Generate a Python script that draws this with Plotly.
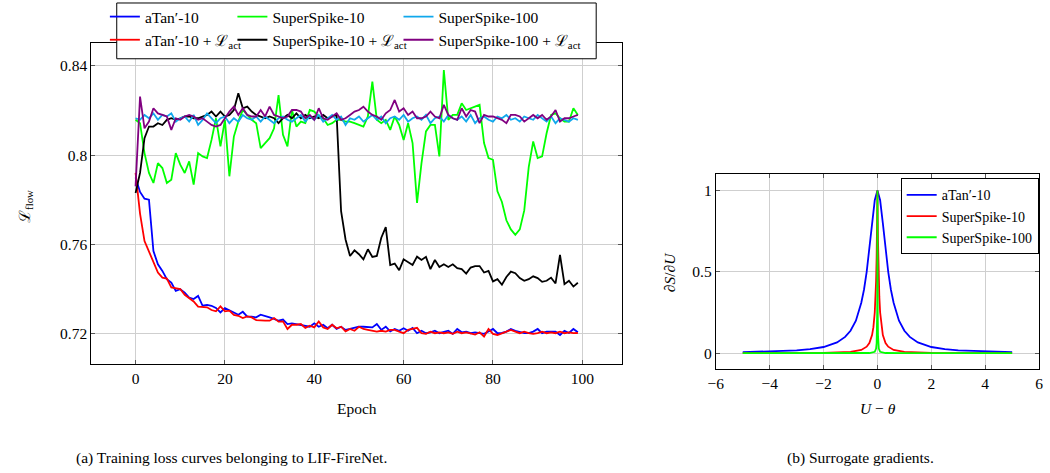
import plotly.graph_objects as go

W, H = 1050, 473
FONT = "Liberation Serif, Times New Roman, serif"

epochs = list(range(100))

atan10 = [0.7900, 0.7835, 0.7805, 0.7800, 0.7570, 0.7511, 0.7481, 0.7444, 0.7429, 0.7392,
          0.7399, 0.7384, 0.7362, 0.7355, 0.7369, 0.7325, 0.7329, 0.7325, 0.7315, 0.7295,
          0.7315, 0.7306, 0.7295, 0.7285, 0.7298, 0.7276, 0.7276, 0.7273, 0.7285, 0.7280,
          0.7273, 0.7266, 0.7258, 0.7263, 0.7243, 0.7246, 0.7243, 0.7240, 0.7236, 0.7231,
          0.7246, 0.7231, 0.7240, 0.7224, 0.7240, 0.7221, 0.7231, 0.7217, 0.7221, 0.7226,
          0.7231, 0.7231, 0.7231, 0.7228, 0.7243, 0.7217, 0.7231, 0.7210, 0.7221, 0.7213,
          0.7224, 0.7213, 0.7226, 0.7202, 0.7213, 0.7202, 0.7206, 0.7213, 0.7202, 0.7209,
          0.7213, 0.7199, 0.7221, 0.7206, 0.7209, 0.7202, 0.7206, 0.7202, 0.7199, 0.7210,
          0.7221, 0.7202, 0.7203, 0.7209, 0.7221, 0.7213, 0.7206, 0.7202, 0.7202, 0.7209,
          0.7221, 0.7202, 0.7209, 0.7210, 0.7209, 0.7194, 0.7213, 0.7203, 0.7221, 0.7206]

atan10_act = [0.7920, 0.7738, 0.7615, 0.7570, 0.7526, 0.7474, 0.7451, 0.7447, 0.7407, 0.7404,
              0.7400, 0.7374, 0.7359, 0.7344, 0.7321, 0.7318, 0.7318, 0.7306, 0.7300, 0.7322,
              0.7300, 0.7303, 0.7284, 0.7280, 0.7270, 0.7277, 0.7273, 0.7261, 0.7258, 0.7258,
              0.7258, 0.7270, 0.7254, 0.7255, 0.7221, 0.7240, 0.7240, 0.7243, 0.7226, 0.7236,
              0.7228, 0.7255, 0.7228, 0.7221, 0.7240, 0.7224, 0.7231, 0.7210, 0.7221, 0.7213,
              0.7231, 0.7221, 0.7217, 0.7213, 0.7209, 0.7213, 0.7209, 0.7217, 0.7217, 0.7209,
              0.7202, 0.7217, 0.7221, 0.7226, 0.7202, 0.7199, 0.7209, 0.7202, 0.7206, 0.7202,
              0.7206, 0.7199, 0.7209, 0.7202, 0.7206, 0.7202, 0.7196, 0.7206, 0.7187, 0.7221,
              0.7199, 0.7194, 0.7202, 0.7209, 0.7217, 0.7209, 0.7202, 0.7209, 0.7202, 0.7199,
              0.7202, 0.7209, 0.7202, 0.7206, 0.7202, 0.7209, 0.7202, 0.7206, 0.7202, 0.7203]

ss10 = [0.8158, 0.8143, 0.8009, 0.7920, 0.7875, 0.7964, 0.7942, 0.7875, 0.7890, 0.8009,
        0.7957, 0.7920, 0.7972, 0.7868, 0.8009, 0.7994, 0.7987, 0.8068, 0.8165, 0.8039,
        0.8158, 0.7905, 0.8083, 0.8150, 0.8202, 0.8180, 0.8158, 0.8143, 0.8031, 0.8054,
        0.8076, 0.8120, 0.8269, 0.8091, 0.8039, 0.8202, 0.8128, 0.8150, 0.8143, 0.8202,
        0.8195, 0.8173, 0.8165, 0.8135, 0.8143, 0.8158, 0.8158, 0.8150, 0.8150, 0.8143,
        0.8135, 0.8128, 0.8173, 0.8329, 0.8158, 0.8143, 0.8158, 0.8113, 0.8173, 0.8135,
        0.8068, 0.8143, 0.8054, 0.7786, 0.7964, 0.8106, 0.8135, 0.8135, 0.7994, 0.8381,
        0.8158, 0.8180, 0.8180, 0.8232, 0.8202, 0.8210, 0.8217, 0.8225, 0.8054, 0.7987,
        0.7979, 0.7838, 0.7790, 0.7708, 0.7667, 0.7643, 0.7667, 0.7752, 0.7946, 0.8061,
        0.7987, 0.7994, 0.8098, 0.8180, 0.8187, 0.8165, 0.8150, 0.8150, 0.8210, 0.8180]

ss10_act = [0.7830, 0.7920, 0.8076, 0.8128, 0.8128, 0.8143, 0.8135, 0.8158, 0.8165, 0.8158,
            0.8165, 0.8173, 0.8173, 0.8165, 0.8165, 0.8173, 0.8180, 0.8195, 0.8173, 0.8195,
            0.8173, 0.8180, 0.8202, 0.8277, 0.8210, 0.8217, 0.8195, 0.8180, 0.8173, 0.8165,
            0.8173, 0.8165, 0.8143, 0.8165, 0.8180, 0.8165, 0.8187, 0.8165, 0.8180, 0.8165,
            0.8173, 0.8165, 0.8180, 0.8165, 0.8173, 0.8180, 0.7749, 0.7622, 0.7548, 0.7573,
            0.7556, 0.7533, 0.7578, 0.7544, 0.7548, 0.7630, 0.7677, 0.7507, 0.7514, 0.7484,
            0.7533, 0.7521, 0.7508, 0.7545, 0.7530, 0.7544, 0.7489, 0.7530, 0.7499, 0.7511,
            0.7499, 0.7511, 0.7493, 0.7489, 0.7469, 0.7496, 0.7503, 0.7503, 0.7474, 0.7481,
            0.7434, 0.7444, 0.7419, 0.7454, 0.7478, 0.7471, 0.7449, 0.7437, 0.7444, 0.7457,
            0.7449, 0.7432, 0.7437, 0.7451, 0.7425, 0.7553, 0.7422, 0.7437, 0.7411, 0.7428]

ss100 = [0.8165, 0.8158, 0.8180, 0.8165, 0.8187, 0.8158, 0.8180, 0.8173, 0.8187, 0.8150,
         0.8165, 0.8173, 0.8150, 0.8180, 0.8135, 0.8158, 0.8187, 0.8165, 0.8143, 0.8165,
         0.8173, 0.8143, 0.8165, 0.8150, 0.8180, 0.8165, 0.8158, 0.8173, 0.8150, 0.8173,
         0.8158, 0.8143, 0.8165, 0.8173, 0.8158, 0.8150, 0.8165, 0.8180, 0.8150, 0.8173,
         0.8158, 0.8180, 0.8150, 0.8165, 0.8180, 0.8158, 0.8173, 0.8135, 0.8165, 0.8158,
         0.8173, 0.8150, 0.8165, 0.8180, 0.8158, 0.8173, 0.8143, 0.8165, 0.8173, 0.8158,
         0.8180, 0.8150, 0.8165, 0.8173, 0.8158, 0.8180, 0.8143, 0.8165, 0.8173, 0.8150,
         0.8180, 0.8165, 0.8158, 0.8173, 0.8150, 0.8180, 0.8143, 0.8165, 0.8173, 0.8158,
         0.8150, 0.8173, 0.8165, 0.8180, 0.8158, 0.8165, 0.8150, 0.8173, 0.8165, 0.8158,
         0.8180, 0.8165, 0.8150, 0.8173, 0.8143, 0.8165, 0.8158, 0.8150, 0.8165, 0.8158]

ss100_act = [0.7860, 0.8262, 0.8120, 0.8150, 0.8210, 0.8187, 0.8180, 0.8173, 0.8113, 0.8165,
             0.8158, 0.8173, 0.8180, 0.8173, 0.8158, 0.8165, 0.8150, 0.8135, 0.8128, 0.8135,
             0.8165, 0.8195, 0.8217, 0.8180, 0.8210, 0.8180, 0.8173, 0.8173, 0.8202, 0.8173,
             0.8217, 0.8180, 0.8173, 0.8165, 0.8173, 0.8202, 0.8202, 0.8195, 0.8165, 0.8180,
             0.8158, 0.8210, 0.8165, 0.8158, 0.8173, 0.8187, 0.8158, 0.8165, 0.8180, 0.8195,
             0.8202, 0.8217, 0.8195, 0.8180, 0.8173, 0.8158, 0.8187, 0.8202, 0.8247, 0.8195,
             0.8210, 0.8180, 0.8195, 0.8165, 0.8165, 0.8173, 0.8195, 0.8173, 0.8165, 0.8225,
             0.8180, 0.8165, 0.8158, 0.8210, 0.8173, 0.8202, 0.8195, 0.8143, 0.8180, 0.8173,
             0.8173, 0.8165, 0.8158, 0.8143, 0.8180, 0.8180, 0.8173, 0.8150, 0.8165, 0.8180,
             0.8165, 0.8180, 0.8158, 0.8173, 0.8202, 0.8150, 0.8165, 0.8165, 0.8173, 0.8180]

# Surrogate gradients (right panel)
sg_atan_x = [-5, -4, -3, -2.5, -2, -1.5, -1.2, -1, -0.8, -0.6, -0.5, -0.4, -0.3, -0.2, -0.1, 0,
             0.1, 0.2, 0.3, 0.4, 0.5, 0.6, 0.8, 1, 1.2, 1.5, 2, 2.5, 3, 4, 5]
sg_atan_y = [0.006, 0.010, 0.017, 0.025, 0.038, 0.066, 0.10, 0.138, 0.20, 0.31, 0.39, 0.50, 0.64, 0.80, 0.94, 1.0,
             0.94, 0.80, 0.64, 0.50, 0.39, 0.31, 0.20, 0.138, 0.10, 0.066, 0.038, 0.025, 0.017, 0.010, 0.006]
sg_ss10_x = [-5, -3, -2, -1, -0.6, -0.4, -0.3, -0.2, -0.15, -0.1, -0.07, -0.05, -0.03, -0.02, -0.01, 0,
             0.01, 0.02, 0.03, 0.05, 0.07, 0.1, 0.15, 0.2, 0.3, 0.4, 0.6, 1, 2, 3, 5]
sg_ss10_y = [0.0004, 0.0011, 0.0023, 0.0083, 0.020, 0.040, 0.0625, 0.111, 0.16, 0.25, 0.346, 0.444, 0.592, 0.694, 0.826, 1.0,
             0.826, 0.694, 0.592, 0.444, 0.346, 0.25, 0.16, 0.111, 0.0625, 0.040, 0.020, 0.0083, 0.0023, 0.0011, 0.0004]
sg_ss100_x = [-5, -1, -0.3, -0.1, -0.05, -0.03, -0.02, -0.01, -0.005, -0.002, 0,
              0.002, 0.005, 0.01, 0.02, 0.03, 0.05, 0.1, 0.3, 1, 5]
sg_ss100_y = [0.0, 0.0001, 0.001, 0.0083, 0.028, 0.0625, 0.111, 0.25, 0.444, 0.694, 1.0,
              0.694, 0.444, 0.25, 0.111, 0.0625, 0.028, 0.0083, 0.001, 0.0001, 0.0]

C_BLUE, C_RED, C_GREEN = "#0000ff", "#ff0000", "#00ff00"
C_BLACK, C_CYAN, C_PURPLE = "#000000", "#10a8ec", "#800080"
LW = 1.8

fig = go.Figure()
left = [
    ("aTan′-10", atan10, C_BLUE, "legend"),
    ("aTan′-10 + ℒ<sub>act</sub>", atan10_act, C_RED, "legend"),
    ("SuperSpike-10", ss10, C_GREEN, "legend2"),
    ("SuperSpike-10 + ℒ<sub>act</sub>", ss10_act, C_BLACK, "legend2"),
    ("SuperSpike-100", ss100, C_CYAN, "legend3"),
    ("SuperSpike-100 + ℒ<sub>act</sub>", ss100_act, C_PURPLE, "legend3"),
]
for i, (name, ys, col, lg) in enumerate(left):
    fig.add_trace(go.Scatter(x=epochs, y=ys, mode="lines", name=name,
                             line=dict(color=col, width=LW), legend=lg,
                             legendgroup="g%d" % i, xaxis="x", yaxis="y"))

right = [
    ("aTan′-10", sg_atan_x, sg_atan_y, C_BLUE),
    ("SuperSpike-10", sg_ss10_x, sg_ss10_y, C_RED),
    ("SuperSpike-100", sg_ss100_x, sg_ss100_y, C_GREEN),
]
for i, (name, xs, ys, col) in enumerate(right):
    fig.add_trace(go.Scatter(x=xs, y=ys, mode="lines", name=name,
                             line=dict(color=col, width=LW), legend="legend4",
                             legendgroup="r%d" % i, xaxis="x2", yaxis="y2"))

def px(x):
    return x / W

def py(y):
    return 1 - y / H

axis_common = dict(showgrid=True, gridcolor="#cfcfcf", gridwidth=1, zeroline=False,
                   showline=True, linecolor="black", linewidth=1, mirror="allticks",
                   ticks="inside", ticklen=4, tickcolor="#555555", tickwidth=1,
                   tickfont=dict(family=FONT, size=15.5, color="black"))

leg_common = dict(xanchor="left", yanchor="top", bgcolor="rgba(0,0,0,0)", borderwidth=0,
                  tracegroupgap=0, itemwidth=30, font=dict(family=FONT, size=15.5, color="black"))

fig.update_layout(
    width=W, height=H, margin=dict(l=0, r=0, t=0, b=0),
    paper_bgcolor="white", plot_bgcolor="white",
    font=dict(family=FONT, size=15.5, color="black"),
    xaxis=dict(domain=[px(84.3), px(621.2)], range=[-9.9, 108.9],
               tickvals=[0, 20, 40, 60, 80, 100], anchor="y", **axis_common),
    yaxis=dict(domain=[py(364), py(41)], range=[0.7062, 0.8503],
               tickvals=[0.72, 0.76, 0.8, 0.84], ticktext=["0.72", "0.76", "0.8", "0.84"],
               anchor="x", **axis_common),
    xaxis2=dict(domain=[px(716), px(1043)], range=[-6, 6],
                tickvals=[-6, -4, -2, 0, 2, 4, 6],
                ticktext=["−6", "−4", "−2", "0", "2", "4", "6"], anchor="y2", **axis_common),
    yaxis2=dict(domain=[py(369), py(173)], range=[-0.1, 1.1],
                tickvals=[0, 0.5, 1], ticktext=["0", "0.5", "1"], anchor="x2", **axis_common),
    legend=dict(x=px(98), y=py(-2), **leg_common),
    legend2=dict(x=px(227), y=py(-2), **leg_common),
    legend3=dict(x=px(395), y=py(-2), **leg_common),
    legend4=dict(x=px(903), y=py(177), xanchor="left", yanchor="top", bgcolor="white",
                 bordercolor="black", borderwidth=1, tracegroupgap=0, itemwidth=30,
                 font=dict(family=FONT, size=14, color="black")),
    showlegend=True,
)

# white legend frame of the left panel (covers the top of the plot frame)
fig.add_shape(type="rect", xref="paper", yref="paper", x0=px(110), x1=px(595),
              y0=py(57), y1=py(1), line=dict(color="black", width=1),
              fillcolor="white", layer="above")

ann = [
    dict(x=px(353), y=py(408), text="Epoch", textangle=0, size=15.5),
    dict(x=px(880), y=py(408), text="<i>U</i> − <i>θ</i>", textangle=0, size=15.5),
    dict(x=px(17), y=py(205), text="ℒ<sub>flow</sub>", textangle=-90, size=15.5),
    dict(x=px(670), y=py(271), text="<i>∂S</i>/<i>∂U</i>", textangle=-90, size=15.5),
    dict(x=px(226), y=py(458), text="(a) Training loss curves belonging to LIF-FireNet.", textangle=0, size=15.5),
    dict(x=px(862), y=py(458), text="(b) Surrogate gradients.", textangle=0, size=15.5),
]
for a in ann:
    fig.add_annotation(x=a["x"], y=a["y"], xref="paper", yref="paper", text=a["text"],
                       showarrow=False, textangle=a["textangle"], xanchor="center", yanchor="middle",
                       font=dict(family=FONT, size=a["size"], color="black"))

fig.write_html("out.html", config={"displayModeBar": False},
               post_script="document.body.style.margin='0px';document.body.style.overflow='hidden';")
